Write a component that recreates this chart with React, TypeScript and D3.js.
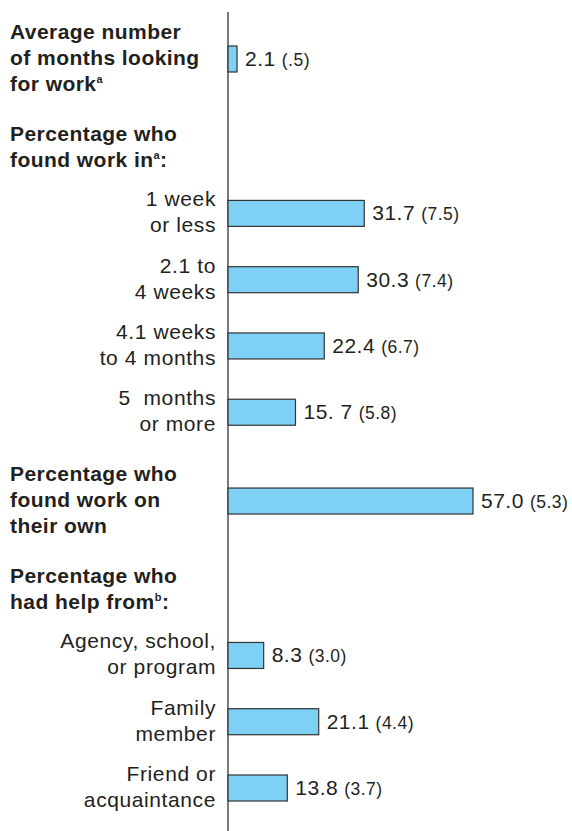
import React from "react";
import * as d3 from "d3";

// ---- data ----
const categoryLabels: string[][] = [
  ["Average number", "of months looking", "for work"],
  ["1 week", "or less"],
  ["2.1 to", "4 weeks"],
  ["4.1 weeks", "to 4 months"],
  ["5  months", "or more"],
  ["Percentage who", "found work on", "their own"],
  ["Agency, school,", "or program"],
  ["Family", "member"],
  ["Friend or", "acquaintance"],
];
const isHeaderRow: boolean[] = [true, false, false, false, false, true, false, false, false];
const supText: string[] = ["a", "", "", "", "", "", "", "", ""];
const values: number[] = [2.1, 31.7, 30.3, 22.4, 15.7, 57.0, 8.3, 21.1, 13.8];
const valueLabels: string[] = ["2.1", "31.7", "30.3", "22.4", "15. 7", "57.0", "8.3", "21.1", "13.8"];
const seLabels: string[] = ["(.5)", "(7.5)", "(7.4)", "(6.7)", "(5.8)", "(5.3)", "(3.0)", "(4.4)", "(3.7)"];

const sectionHeaders = [
  { beforeRow: 1, lines: ["Percentage who", "found work in"] },
  { beforeRow: 6, lines: ["Percentage who", "had help from"] },
];
const sectionSup: string[] = ["a", "b"];

// layout slots (row positions in row units)
const rowSlots: number[] = [0, 2.33, 3.33, 4.33, 5.33, 6.67, 9, 10, 11];

const W = 572;
const H = 831;
const FONT = "'Liberation Sans', Arial, Helvetica, sans-serif";
const INK = "#231f20";
const FILL = "#7fd0f5";

const keepSpaces = (s: string) => s.replace(/  /g, "\u00a0 ");

export default function App() {
  const x = d3.scaleLinear().domain([0, 57]).range([228, 473]);
  const y = d3.scaleLinear().domain([0, 11]).range([59, 788]);
  const barH = 26;

  return (
    <svg
      width={W}
      height={H}
      style={{ position: "absolute", left: 0, top: 0, background: "#fff" }}
      fontFamily={FONT}
    >
      <rect width={W} height={H} fill="#fff" />
      {/* axis line */}
      <line x1={x(0)} x2={x(0)} y1={12} y2={H} stroke="#333" strokeWidth={1.3} />

      {/* section headers */}
      {sectionHeaders.map((s, i) => {
        const cy = y(rowSlots[s.beforeRow]);
        return (
          <text key={"sh" + i} fill={INK} fontWeight="bold" fontSize={21} letterSpacing={0.45}>
            {s.lines.map((ln, j) => (
              <tspan key={j} x={10} y={cy - 72 + j * 26}>
                {ln}
                {j === s.lines.length - 1 ? (
                  <>
                    <tspan fontSize={11} dy={-8}>{sectionSup[i]}</tspan>
                    <tspan dy={8}>:</tspan>
                  </>
                ) : null}
              </tspan>
            ))}
          </text>
        );
      })}

      {values.map((v, i) => {
        const cy = y(rowSlots[i]);
        const lines = categoryLabels[i];
        return (
          <g key={i}>
            {isHeaderRow[i] ? (
              <text fill={INK} fontWeight="bold" fontSize={21} letterSpacing={0.45}>
                {lines.map((ln, j) => (
                  <tspan key={j} x={10} y={cy - 20 + j * 26}>
                    {ln}
                    {j === lines.length - 1 && supText[i] ? (
                      <tspan fontSize={11} dy={-8}>{supText[i]}</tspan>
                    ) : null}
                  </tspan>
                ))}
              </text>
            ) : (
              <text fill={INK} fontSize={21} letterSpacing={0.6} textAnchor="end">
                {lines.map((ln, j) => (
                  <tspan key={j} x={216} y={cy - 7 + j * 26}>
                    {keepSpaces(ln)}
                  </tspan>
                ))}
              </text>
            )}
            <rect
              x={x(0)}
              y={cy - barH / 2}
              width={x(v) - x(0)}
              height={barH}
              fill={FILL}
              stroke="#333"
              strokeWidth={1.2}
            />
            <text x={x(v) + 8} y={cy + 7} fill={INK}>
              <tspan fontSize={21} letterSpacing={0.5}>{valueLabels[i]}</tspan>
              <tspan fontSize={17.5} letterSpacing={0.5} dx={6}>{seLabels[i]}</tspan>
            </text>
          </g>
        );
      })}
    </svg>
  );
}
